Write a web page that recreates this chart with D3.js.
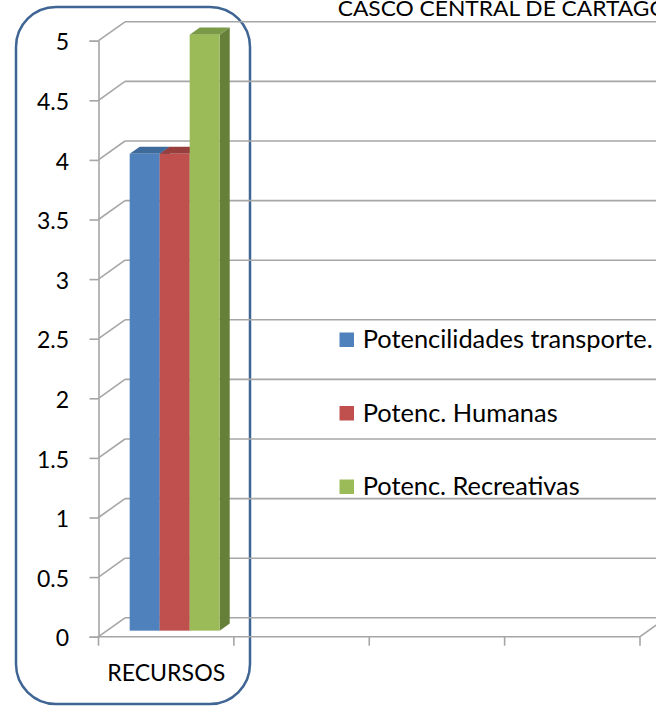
<!DOCTYPE html>
<html>
<head>
<meta charset="utf-8">
<script src="https://cdn.jsdelivr.net/npm/d3@7"></script>
<style>
  html, body { margin: 0; padding: 0; background: #fff; }
  svg { display: block; }
  text { font-family: Lato, "Open Sans", sans-serif; fill: #000; }
</style>
</head>
<body>
<svg id="chart" width="656" height="706"></svg>
<script>
// ---- data ----
const chartTitle = "CASCO CENTRAL DE CARTAGO";
const categories = ["RECURSOS", "", "", ""];
const seriesNames = ["Potencilidades transporte.", "Potenc. Humanas", "Potenc. Recreativas"];
const potTransporte = [4];
const potHumanas = [4];
const potRecreativas = [5];
const yTicks = [0, 0.5, 1, 1.5, 2, 2.5, 3, 3.5, 4, 4.5, 5];

const seriesValues = [potTransporte, potHumanas, potRecreativas];
const faceColors = ["#4f81bd", "#c0504d", "#9bbb59"];
const topColors = ["#3e6a9c", "#983f3d", "#7a9a48"];
const sideColors = ["#3a5f8c", "#8a3835", "#66803a"];

// ---- layout ----
const svg = d3.select("#chart");
const x = d3.scaleBand().domain(d3.range(categories.length)).range([98.5, 640]).padding(0);
const y = d3.scaleLinear().domain([0, 5]).range([636.7, 40.7]);
const wallDX = 26.5, wallDY = -18.9;
const barDepth0 = 0.32, barDepthLen = 0.38;
const proj = (px, v, d) => [px + d * wallDX, y(v) + d * wallDY];
const gridColor = "#a6a6a6";

// rounded frame
svg.append("rect")
  .attr("x", 16).attr("y", 7).attr("width", 234).attr("height", 697)
  .attr("rx", 40).attr("ry", 40)
  .attr("fill", "none").attr("stroke", "#3f6594").attr("stroke-width", 2.5);

// title
svg.append("text")
  .attr("x", 337.7).attr("y", 15.5)
  .attr("font-size", 22)
  .attr("textLength", 330).attr("lengthAdjust", "spacingAndGlyphs")
  .text(chartTitle);

// back wall gridlines + side wall diagonals
const grid = svg.append("g").attr("stroke", gridColor).attr("stroke-width", 1.6).attr("fill", "none");
const xEnd = x.range()[1];
yTicks.forEach(v => {
  const b0 = proj(x.range()[0], v, 1);
  const b1 = proj(xEnd, v, 1);
  grid.append("line").attr("x1", b0[0]).attr("y1", b0[1]).attr("x2", b1[0]).attr("y2", b1[1]);
  const f0 = proj(x.range()[0], v, 0);
  grid.append("line").attr("x1", f0[0]).attr("y1", f0[1]).attr("x2", b0[0]).attr("y2", b0[1]);
});
// floor front edge and right floor diagonal
{
  const a = proj(x.range()[0], 0, 0), b = proj(xEnd, 0, 0), c = proj(xEnd, 0, 1);
  grid.append("line").attr("x1", a[0]).attr("y1", a[1]).attr("x2", b[0]).attr("y2", b[1]);
  grid.append("line").attr("x1", b[0]).attr("y1", b[1]).attr("x2", c[0]).attr("y2", c[1]);
}

// y axis
const yAxis = d3.axisLeft(y).tickValues(yTicks).tickSize(9).tickPadding(20.5).tickFormat(d3.format(""));
const gy = svg.append("g").attr("transform", `translate(${x.range()[0]},0)`).call(yAxis);
gy.select(".domain").attr("stroke", gridColor).attr("stroke-width", 1.6);
gy.selectAll(".tick line").attr("stroke", gridColor).attr("stroke-width", 1.6);
gy.selectAll(".tick text").attr("font-size", 23).attr("font-family", "Lato, sans-serif").attr("fill", "#000").attr("dy", "0.4em");

// x axis ticks at band boundaries
const xBounds = d3.range(categories.length).map(i => x(i)).concat([xEnd]);
svg.append("g").selectAll("line").data(xBounds).join("line")
  .attr("x1", d => d).attr("x2", d => d)
  .attr("y1", y(0)).attr("y2", y(0) + 9)
  .attr("stroke", gridColor).attr("stroke-width", 1.6);
svg.append("g").selectAll("text").data(categories).join("text")
  .attr("x", (d, i) => x(i) + x.bandwidth() / 2)
  .attr("y", 680.5)
  .attr("text-anchor", "middle")
  .attr("font-size", 23.5)
  .each(function(d) { if (d) d3.select(this).attr("textLength", 118).attr("lengthAdjust", "spacingAndGlyphs"); })
  .text(d => d);

// bars (3D)
const inner = d3.scaleBand().domain(d3.range(seriesNames.length))
  .range([0, x.bandwidth()]).paddingInner(0).paddingOuter(0.757);
const bars = svg.append("g");
categories.forEach((cat, ci) => {
  seriesValues.forEach((vals, si) => {
    const v = vals[ci];
    if (v === undefined || v === null) return;
    const x0 = x(ci) + inner(si), x1 = x0 + inner.bandwidth();
    const d0 = barDepth0, d1 = barDepth0 + barDepthLen;
    const ftl = proj(x0, v, d0), ftr = proj(x1, v, d0), fbr = proj(x1, 0, d0);
    const btl = proj(x0, v, d1), btr = proj(x1, v, d1), bbr = proj(x1, 0, d1);
    bars.append("polygon").attr("points", [ftr, btr, bbr, fbr].map(p => p.join(",")).join(" "))
      .attr("fill", sideColors[si]);
    bars.append("polygon").attr("points", [ftl, ftr, btr, btl].map(p => p.join(",")).join(" "))
      .attr("fill", topColors[si]);
    bars.append("rect").attr("x", ftl[0]).attr("y", ftl[1])
      .attr("width", ftr[0] - ftl[0]).attr("height", fbr[1] - ftr[1])
      .attr("fill", faceColors[si]);
  });
});

// legend
const legendY = [339.5, 413, 486.5];
const legendW = [290, 195, 217];
const lg = svg.append("g");
seriesNames.forEach((name, i) => {
  lg.append("rect").attr("x", 339.5).attr("y", legendY[i] - 7).attr("width", 14.5).attr("height", 14.5)
    .attr("fill", faceColors[i]);
  lg.append("text").attr("x", 362.7).attr("y", legendY[i] + 8.5)
    .attr("font-size", 25)
    .attr("textLength", legendW[i]).attr("lengthAdjust", "spacingAndGlyphs")
    .text(name);
});
</script>
</body>
</html>
